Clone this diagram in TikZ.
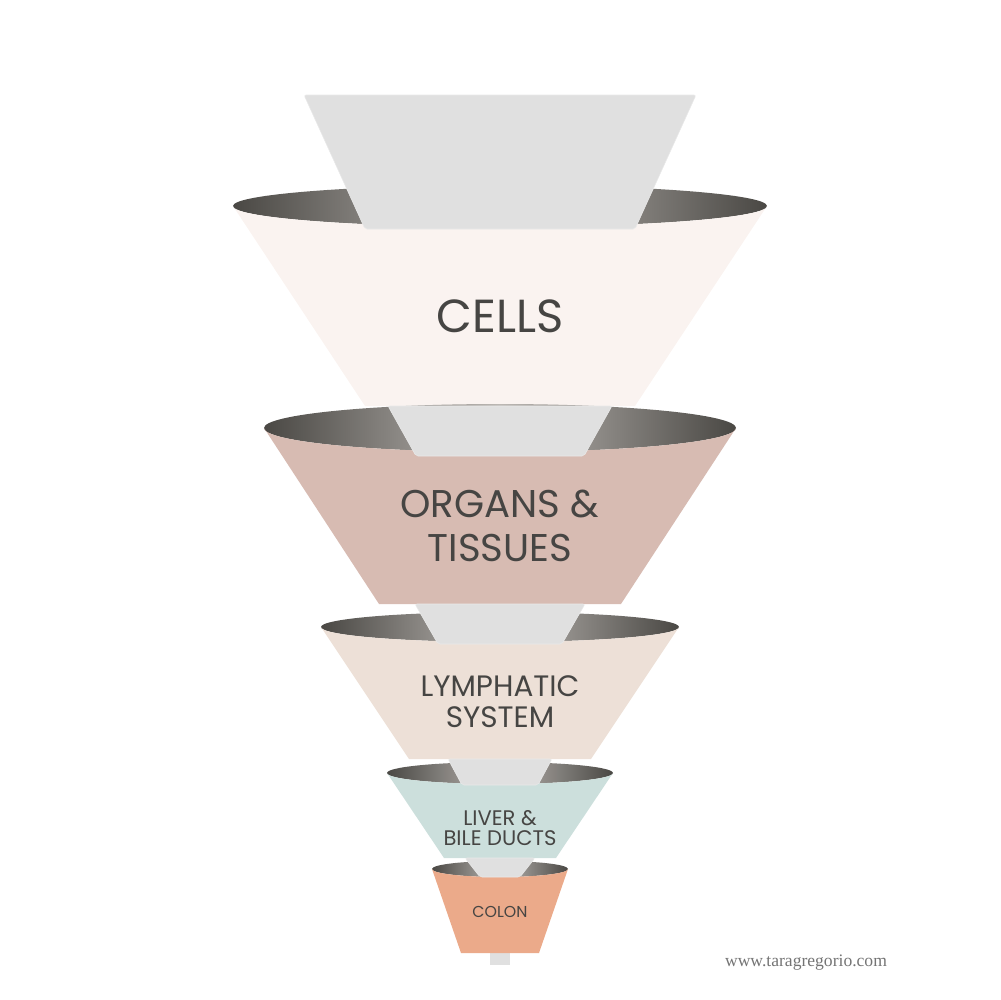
\documentclass[tikz,border=0pt]{standalone}
\usepackage{fontspec}
\newfontfamily\labelfont{Poppins}
\newfontfamily\webfont{Liberation Serif}
\definecolor{cellsfill}{HTML}{FAF3F0}
\definecolor{organsfill}{HTML}{D7BBB2}
\definecolor{lymphfill}{HTML}{EDE0D7}
\definecolor{liverfill}{HTML}{CCDFDC}
\definecolor{colonfill}{HTML}{EBAA8A}
\definecolor{innergrey}{HTML}{E0E0E0}
\definecolor{inneredge}{HTML}{E9E9E9}
\definecolor{rimdark}{HTML}{4A4844}
\definecolor{rimlight}{HTML}{BCB8B4}
\definecolor{labeltext}{HTML}{464543}
\definecolor{webtext}{HTML}{747474}
\tikzset{
  rim/.style={left color=rimdark, right color=rimdark, middle color=rimlight},
  inner/.style={fill=innergrey, draw=inneredge, line width=0.15pt, rounded corners=0.2mm},
  label/.style={text=labeltext, align=center, font=\labelfont, inner sep=0pt}
}
\begin{document}
\begin{tikzpicture}[x=0.1mm, y=-0.1mm]
  \useasboundingbox (0,0) rectangle (1000,1000);

  % Stem
  \fill[innergrey] (490,950) rectangle (510,965);

  % Funnels: rim, body, then the grey piece falling into the rim
  \foreach \a/\cy/\b/\by/\bw/\col/\ty/\tw/\gy/\gw in {
      267/206/21/406/135/cellsfill/95/196/229/135,
      236/428/24/604/121/organsfill/406/112/456/84,
      179/627/15/759/91/lymphfill/604/85/644/62,
      113/773/11/858/56/liverfill/759/52/785/38,
      68/869/8/953/39/colonfill/858/35/877/20}{
    \shade[rim] (500,\cy) ellipse [x radius=\a, y radius=\b];
    \fill[\col] (500-\a,\cy) arc [start angle=180, end angle=0, x radius=\a, y radius=\b]
      -- (500+\bw,\by) -- (500-\bw,\by) -- cycle;
    \draw[inner] (500-\tw,\ty) -- (500+\tw,\ty) -- (500+\gw,\gy) -- (500-\gw,\gy) -- cycle;
  }

  % Labels
  \node[label, font=\labelfont\fontsize{13.2}{15}\selectfont] (cells) at (500,316) {CELLS};
  \node[label, font=\labelfont\fontsize{11}{12.5}\selectfont] (organs) at (500,526) {ORGANS \&\\TISSUES};
  \node[label, font=\labelfont\fontsize{8.4}{8.8}\selectfont] (lymph) at (500,702) {LYMPHATIC\\SYSTEM};
  \node[label, font=\labelfont\fontsize{6}{5.7}\selectfont] (liver) at (500,828) {LIVER \&\\BILE DUCTS};
  \node[label, font=\labelfont\fontsize{4.5}{5}\selectfont] (colon) at (500,912) {COLON};

  % Website
  \node[text=webtext, font=\webfont\fontsize{5.0}{6}\selectfont, inner sep=0pt] (web) at (806,963) {www.taragregorio.com};
\end{tikzpicture}
\end{document}
